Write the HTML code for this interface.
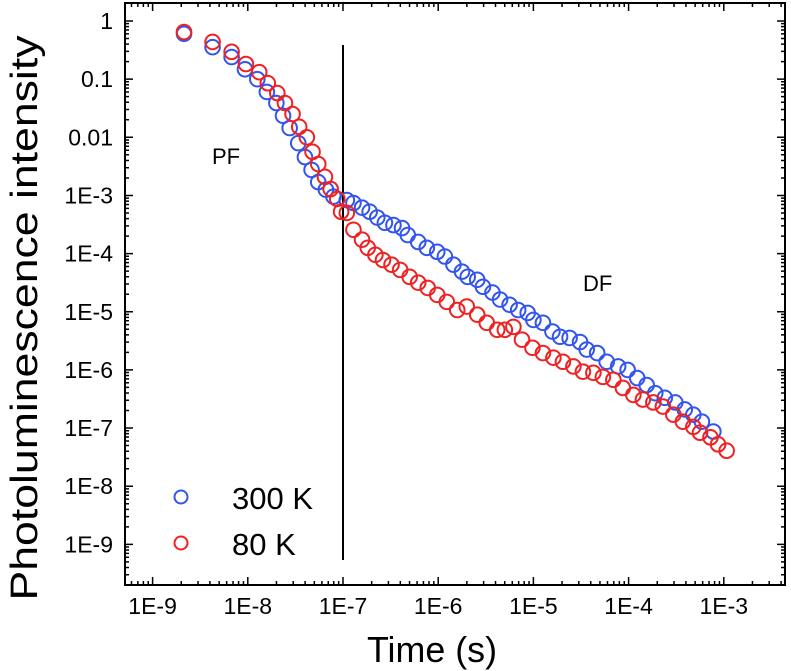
<!DOCTYPE html>
<html><head><meta charset="utf-8"><style>
body{margin:0;background:#fff;}
svg{display:block;font-family:"Liberation Sans",sans-serif;}
</style></head><body>
<svg id="chart" width="791" height="671" viewBox="0 0 791 671" xmlns="http://www.w3.org/2000/svg">
<g id="axes"></g>
<g id="marks"></g>
<text x="432" y="662" font-size="36" text-anchor="middle" textLength="130" lengthAdjust="spacingAndGlyphs">Time (s)</text>
<text transform="translate(37,318) rotate(-90)" font-size="38" text-anchor="middle" textLength="565" lengthAdjust="spacingAndGlyphs">Photoluminescence intensity</text>
<text x="212" y="164" font-size="22">PF</text>
<text x="583" y="291" font-size="22">DF</text>
<g>
<circle cx="181" cy="497" r="6.5" fill="none" stroke="#3355ee" stroke-width="2"/>
<text x="232" y="509" font-size="31">300 K</text>
<circle cx="181" cy="543" r="6.5" fill="none" stroke="#ee2222" stroke-width="2"/>
<text x="232" y="555" font-size="31">80 K</text>
</g>
</svg>
<script>
// data stored as log10 exponents
const blueLogT=[-8.67,-8.37,-8.17,-8.03,-7.90,-7.80,-7.70,-7.63,-7.56,-7.47,-7.40,-7.33,-7.26,-7.18,-7.10,-6.96,-6.89,-6.80,-6.72,-6.64,-6.56,-6.47,-6.38,-6.32,-6.21,-6.12,-6.01,-5.93,-5.84,-5.75,-5.69,-5.59,-5.53,-5.43,-5.35,-5.25,-5.16,-5.06,-5.00,-4.90,-4.80,-4.72,-4.62,-4.51,-4.44,-4.33,-4.23,-4.11,-4.01,-3.91,-3.81,-3.72,-3.62,-3.51,-3.41,-3.32,-3.23,-3.11];
const blueLogI=[-0.22,-0.45,-0.62,-0.83,-1.00,-1.22,-1.41,-1.63,-1.84,-2.10,-2.34,-2.56,-2.77,-2.90,-3.02,-3.08,-3.13,-3.21,-3.28,-3.38,-3.47,-3.51,-3.56,-3.68,-3.80,-3.90,-3.97,-4.05,-4.19,-4.31,-4.40,-4.45,-4.57,-4.67,-4.79,-4.88,-4.97,-5.02,-5.14,-5.19,-5.34,-5.43,-5.45,-5.52,-5.65,-5.71,-5.86,-5.94,-6.00,-6.14,-6.26,-6.40,-6.48,-6.56,-6.68,-6.77,-6.89,-7.06];
const redLogT=[-8.67,-8.37,-8.17,-8.02,-7.88,-7.79,-7.69,-7.61,-7.53,-7.46,-7.38,-7.32,-7.26,-7.19,-7.13,-7.06,-7.02,-6.96,-6.89,-6.80,-6.74,-6.66,-6.58,-6.49,-6.40,-6.30,-6.21,-6.11,-6.01,-5.91,-5.80,-5.70,-5.59,-5.49,-5.38,-5.30,-5.21,-5.12,-5.01,-4.90,-4.79,-4.69,-4.58,-4.48,-4.37,-4.27,-4.16,-4.06,-3.95,-3.85,-3.74,-3.64,-3.53,-3.43,-3.32,-3.25,-3.14,-3.06,-2.97];
const redLogI=[-0.19,-0.36,-0.53,-0.74,-0.88,-1.07,-1.24,-1.41,-1.60,-1.82,-2.00,-2.25,-2.46,-2.68,-2.89,-3.06,-3.28,-3.30,-3.59,-3.76,-3.90,-4.02,-4.11,-4.19,-4.28,-4.40,-4.50,-4.59,-4.71,-4.83,-4.97,-4.91,-5.05,-5.19,-5.31,-5.31,-5.26,-5.48,-5.62,-5.71,-5.79,-5.86,-5.94,-6.03,-6.05,-6.12,-6.17,-6.31,-6.43,-6.51,-6.56,-6.63,-6.77,-6.89,-6.98,-7.08,-7.16,-7.28,-7.39];
const xTickExp=[-9,-8,-7,-6,-5,-4,-3];
const xTickLabels=["1E-9","1E-8","1E-7","1E-6","1E-5","1E-4","1E-3"];
const yTickExp=[0,-1,-2,-3,-4,-5,-6,-7,-8,-9];
const yTickLabels=["1","0.1","0.01","1E-3","1E-4","1E-5","1E-6","1E-7","1E-8","1E-9"];
const dividerExp=-7;

const L=125,R=785,T=3,B=585;
const sx=e=>343+(e+7)*95.2;
const sy=e=>21-e*58.15;
const NS="http://www.w3.org/2000/svg";
function mk(tag,attrs,parent){const el=document.createElementNS(NS,tag);for(const k in attrs)el.setAttribute(k,attrs[k]);parent.appendChild(el);return el;}
const axes=document.getElementById('axes'),marks=document.getElementById('marks');
const frame=mk('rect',{x:L,y:T,width:R-L,height:B-T,fill:'none',stroke:'#000','stroke-width':2},axes);


let d='';
for(let e=-10;e<=-2;e++){for(let m=1;m<10;m++){const x=sx(e+Math.log10(m));if(x<L+1||x>R-1)continue;const len=m===1?8:4;d+=`M${x},${B}v${-len}M${x},${T}v${len}`;}}
for(let e=0;e>=-10;e--){for(let m=1;m<10;m++){const y=sy(e+Math.log10(m));if(y<T+1||y>B-1)continue;const len=m===1?8:4;d+=`M${L},${y}h${len}M${R},${y}h${-len}`;}}
const ticks=mk('path',{d:d,stroke:'#000','stroke-width':1.5,fill:'none'},axes);


xTickExp.forEach((e,i)=>{const t=mk('text',{x:sx(e),y:614,'font-size':23,'text-anchor':'middle'},axes);t.textContent=xTickLabels[i];

});
yTickExp.forEach((e,i)=>{const t=mk('text',{x:113,y:sy(e)+8,'font-size':23,'text-anchor':'end'},axes);t.textContent=yTickLabels[i];

});
const vl=mk('line',{x1:sx(dividerExp),x2:sx(dividerExp),y1:45,y2:560,stroke:'#000','stroke-width':2},axes);


function series(ts,is,color,name){const g=mk('g',{},marks);

ts.forEach((t,i)=>{const c=mk('circle',{cx:sx(t),cy:sy(is[i]),r:7.3,fill:'none',stroke:color,'stroke-width':2},g);

});}
series(blueLogT,blueLogI,'#3355ee','series-300k');
series(redLogT,redLogI,'#ee2222','series-80k');
</script>
</body></html>
